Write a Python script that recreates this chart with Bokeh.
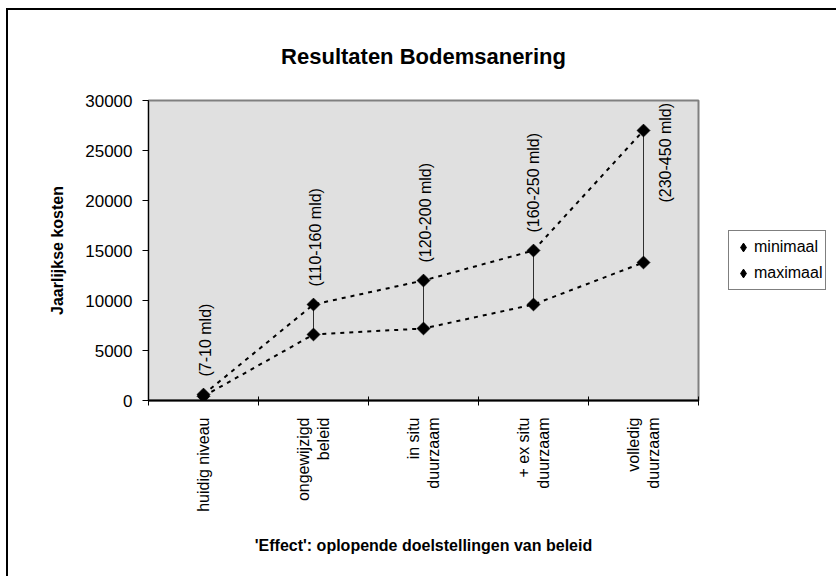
from math import pi
from bokeh.plotting import figure
from bokeh.models import (Range1d, FixedTicker, NumeralTickFormatter, Legend, LegendItem,
                          ColumnDataSource, Title)
from bokeh.core.properties import value
from bokeh.embed import file_html
from bokeh.resources import INLINE

# ---- data ----
categories = ["huidig niveau", "ongewijzigd\nbeleid", "in situ\nduurzaam",
              "+ ex situ\nduurzaam", "volledig\nduurzaam"]
minimaal = [420, 6600, 7200, 9600, 13800]
maximaal = [600, 9600, 12000, 15000, 27000]
range_labels = ["(7-10 mld)", "(110-160 mld)", "(120-200 mld)", "(160-250 mld)", "(230-450 mld)"]
y_ticks = [0, 5000, 10000, 15000, 20000, 25000, 30000]
chart_title = "Resultaten Bodemsanering"

FONT = "Liberation Sans"
NAN = float("nan")

xpos = [i + 0.5 for i in range(len(categories))]

p = figure(width=826, height=566, output_backend="svg", toolbar_location=None,
           x_range=Range1d(0, len(categories)), y_range=Range1d(0, 30000),
           frame_width=550, frame_height=300,
           min_border_left=140, min_border_top=90, min_border_right=136, min_border_bottom=176)
p.title = None
p.styles = {"border-left": "2px solid black", "border-top": "2px solid black",
            "margin-left": "6px", "margin-top": "8px"}

p.background_fill_color = "#e0e0e0"
p.border_fill_color = "white"
p.outline_line_color = "#808080"
p.outline_line_width = 2
p.grid.visible = False

# empty spacer right above the plot area, then the title above it
spacer = Title(text=" ", text_font_size="8px", standoff=16)
p.add_layout(spacer, "above")
main_title = Title(text=chart_title, align="center", text_font=FONT, text_font_size="22px",
                   text_font_style="bold", text_color="black")
p.add_layout(main_title, "above")

# x axis
xa = p.xaxis[0]
xa.ticker = FixedTicker(ticks=xpos, minor_ticks=list(range(len(categories) + 1)))
xa.major_label_overrides = {x: c for x, c in zip(xpos, categories)}
xa.major_label_orientation = pi / 2
xa.major_tick_in = 0
xa.major_tick_out = 0
xa.minor_tick_in = 4
xa.minor_tick_out = 5
xa.minor_tick_line_color = "black"
xa.axis_line_color = "black"
xa.axis_line_width = 2
xa.major_label_text_font = FONT
xa.major_label_text_font_size = "16px"
xa.major_label_text_color = "black"
xa.major_label_text_align = "center"
xa.major_label_standoff = 12
xa.axis_label = "'Effect': oplopende doelstellingen van beleid"
xa.axis_label_text_font = FONT
xa.axis_label_text_font_size = "16px"
xa.axis_label_text_font_style = "bold"
xa.axis_label_text_color = "black"
xa.axis_label_standoff = 22

# y axis
ya = p.yaxis[0]
ya.ticker = FixedTicker(ticks=y_ticks)
ya.formatter = NumeralTickFormatter(format="0")
ya.minor_tick_line_color = None
ya.major_tick_in = 0
ya.major_tick_out = 6
ya.major_tick_line_color = "black"
ya.axis_line_color = "black"
ya.axis_line_width = 1
ya.major_label_text_font = FONT
ya.major_label_text_font_size = "17px"
ya.major_label_text_color = "black"
ya.major_label_standoff = 10
ya.axis_label = "Jaarlijkse kosten"
ya.axis_label_text_font = FONT
ya.axis_label_text_font_size = "16px"
ya.axis_label_text_font_style = "bold"
ya.axis_label_text_color = "black"
ya.axis_label_standoff = 16

# hi-lo lines
p.segment(x0=xpos, y0=minimaal, x1=xpos, y1=maximaal, line_color="#303030", line_width=1)

# dotted series lines
p.line(xpos, minimaal, line_color="black", line_width=2, line_dash="4 5")
p.line(xpos, maximaal, line_color="black", line_width=2, line_dash="4 5")

# markers
p.scatter(xpos, minimaal, marker="square", angle=pi / 4, size=9,
          fill_color="black", line_color="black")
p.scatter(xpos, maximaal, marker="square", angle=pi / 4, size=9,
          fill_color="black", line_color="black")

# legend swatches (diamond markers, not drawn in the plot area)
lg_min = p.scatter([NAN], [NAN], marker="diamond", size=12, fill_color="black", line_color="black")
lg_max = p.scatter([NAN], [NAN], marker="diamond", size=12, fill_color="black", line_color="black")

# range labels above the maximum points
label_dx = [2, 2, 2, 0, 22]
label_dy = [-18, -18, -18, -18, 72]
src = ColumnDataSource(dict(x=xpos, y=maximaal, t=range_labels, dx=label_dx, dy=label_dy))
p.text(x="x", y="y", text="t", source=src, angle=pi / 2, x_offset="dx", y_offset="dy",
       text_align="left", text_baseline="middle", text_font=value(FONT),
       text_font_size="16px", text_color="black")

legend = Legend(items=[LegendItem(label="minimaal", renderers=[lg_min]),
                       LegendItem(label="maximaal", renderers=[lg_max])],
                location=(30, 110))
legend.border_line_color = "black"
legend.border_line_width = 1
legend.background_fill_color = "white"
legend.background_fill_alpha = 1
legend.label_text_font = FONT
legend.label_text_font_size = "16px"
legend.label_text_color = "black"
legend.glyph_width = 22
legend.glyph_height = 26
legend.spacing = 0
legend.padding = 3
legend.margin = 0
legend.label_standoff = 0
legend.label_height = 16
p.add_layout(legend, "right")

open("out.html", "w").write(file_html(p, INLINE))
